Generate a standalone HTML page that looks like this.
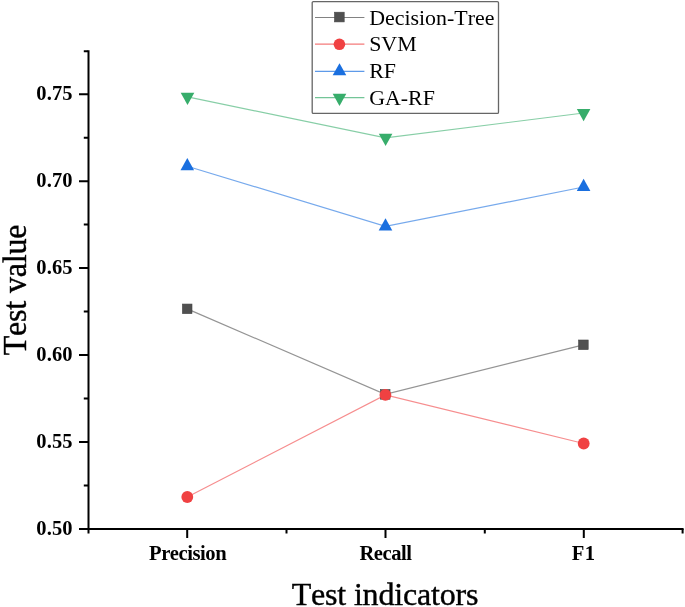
<!DOCTYPE html>
<html><head><meta charset="utf-8"><style>
html,body{margin:0;padding:0;background:#fff;}
body{width:685px;height:607px;overflow:hidden;}
svg{display:block;will-change:transform;}
text{font-family:"Liberation Serif",serif;font-kerning:none;font-feature-settings:"kern" 0;}
</style></head><body>
<svg width="685" height="607" viewBox="0 0 685 607">
<rect width="685" height="607" fill="#fff"/>
<!-- axes -->
<g stroke="#000" stroke-width="2" fill="none">
<path d="M88.5 50.3 V533.4 M87.5 528.9 H683.6"/>
<!-- y major ticks -->
<path d="M79 94.20 H88 M79 181.14 H88 M79 268.08 H88 M79 355.02 H88 M79 441.96 H88 M79 528.90 H88"/>
<!-- y minor ticks -->
<path d="M83.8 51.2 H88 M83.8 137.67 H88 M83.8 224.61 H88 M83.8 311.55 H88 M83.8 398.49 H88 M83.8 485.43 H88"/>
<!-- x major ticks -->
<path d="M187.2 528.9 V538 M385.5 528.9 V538 M583.8 528.9 V538"/>
<!-- x minor ticks -->
<path d="M286.5 528.9 V533.4 M484.8 528.9 V533.4 M682.6 528.9 V533.4"/>
</g>
<!-- y tick labels -->
<g font-size="20.5" font-weight="bold" text-anchor="end" fill="#000" letter-spacing="0.1">
<text x="72.6" y="99.80">0.75</text>
<text x="72.6" y="186.74">0.70</text>
<text x="72.6" y="273.68">0.65</text>
<text x="72.6" y="360.62">0.60</text>
<text x="72.6" y="447.56">0.55</text>
<text x="72.6" y="534.50">0.50</text>
</g>
<!-- x tick labels -->
<g font-size="20.6" font-weight="bold" text-anchor="middle" fill="#000" letter-spacing="-0.45">
<text x="187.6" y="559.6">Precision</text>
<text x="385.5" y="559.6">Recall</text>
<text x="583.6" y="559.6" letter-spacing="0.3">F1</text>
</g>
<!-- axis titles -->
<text x="385" y="605" font-size="32" text-anchor="middle" fill="#000" letter-spacing="-0.18" stroke="#000" stroke-width="0.4">Test indicators</text>
<text transform="translate(25.5 290) rotate(-90) scale(1 1.07)" font-size="32" text-anchor="middle" fill="#000" letter-spacing="-0.18" stroke="#000" stroke-width="0.4">Test value</text>

<!-- data lines -->
<g fill="none" stroke-width="1.2" stroke-opacity="0.6">
<polyline stroke="#4d4d4d" points="187.2,308.85 385.2,394.4 583.4,344.8"/>
<polyline stroke="#f04142" points="187.3,497.0 385.4,394.9 583.7,443.5"/>
<polyline stroke="#1a6fdf" points="187.3,166.2 385.5,226.4 583.6,187.0"/>
<polyline stroke="#37ad6b" points="187.5,96.9 385.6,137.9 583.6,113.0"/>
</g>
<!-- markers DT -->
<g fill="#505050" stroke="#454545" stroke-width="0.6">
<rect x="182.40" y="304.05" width="9.6" height="9.6"/>
<rect x="380.40" y="389.60" width="9.6" height="9.6"/>
<rect x="578.60" y="340.00" width="9.6" height="9.6"/>
</g>
<!-- SVM -->
<g fill="#f04142">
<circle cx="187.3" cy="497.0" r="5.9"/>
<circle cx="385.4" cy="394.9" r="5.9"/>
<circle cx="583.7" cy="443.5" r="5.9"/>
</g>
<!-- RF up triangles (centroid at data) -->
<g fill="#1a6fdf">
<path d="M187.30 158.07 L194.10 170.27 L180.50 170.27 Z"/>
<path d="M385.50 218.27 L392.30 230.47 L378.70 230.47 Z"/>
<path d="M583.60 178.87 L590.40 191.07 L576.80 191.07 Z"/>
</g>
<!-- GA-RF down triangles -->
<g fill="#37ad6b">
<path d="M180.70 92.83 L194.30 92.83 L187.50 105.03 Z"/>
<path d="M378.80 133.83 L392.40 133.83 L385.60 146.03 Z"/>
<path d="M576.80 108.93 L590.40 108.93 L583.60 121.13 Z"/>
</g>

<!-- legend -->
<rect x="312.2" y="1.6" width="186.3" height="111.8" rx="1.2" fill="#fff" stroke="#666" stroke-width="1.3"/>
<g stroke-width="1.2" fill="none" stroke-opacity="0.7">
<line x1="315" y1="17.5" x2="364.4" y2="17.5" stroke="#4d4d4d"/>
<line x1="315" y1="44.2" x2="364.4" y2="44.2" stroke="#f04142"/>
<line x1="315" y1="71.3" x2="364.4" y2="71.3" stroke="#1a6fdf"/>
<line x1="315" y1="97.6" x2="364.4" y2="97.6" stroke="#37ad6b"/>
</g>
<rect x="334.5" y="12.2" width="9.7" height="9.7" fill="#505050" stroke="#454545" stroke-width="0.6"/>
<circle cx="339.4" cy="44.3" r="5.8" fill="#f04142"/>
<path d="M339.50 63.17 L346.30 75.37 L332.70 75.37 Z" fill="#1a6fdf"/>
<path d="M332.70 93.83 L346.30 93.83 L339.50 106.03 Z" fill="#37ad6b"/>
<g font-size="21.9" fill="#000">
<text x="369.2" y="24.6">Decision-Tree</text>
<text x="369.2" y="51.2">SVM</text>
<text x="369.2" y="78">RF</text>
<text x="369.2" y="104.7">GA-RF</text>
</g>
</svg>
</body></html>
